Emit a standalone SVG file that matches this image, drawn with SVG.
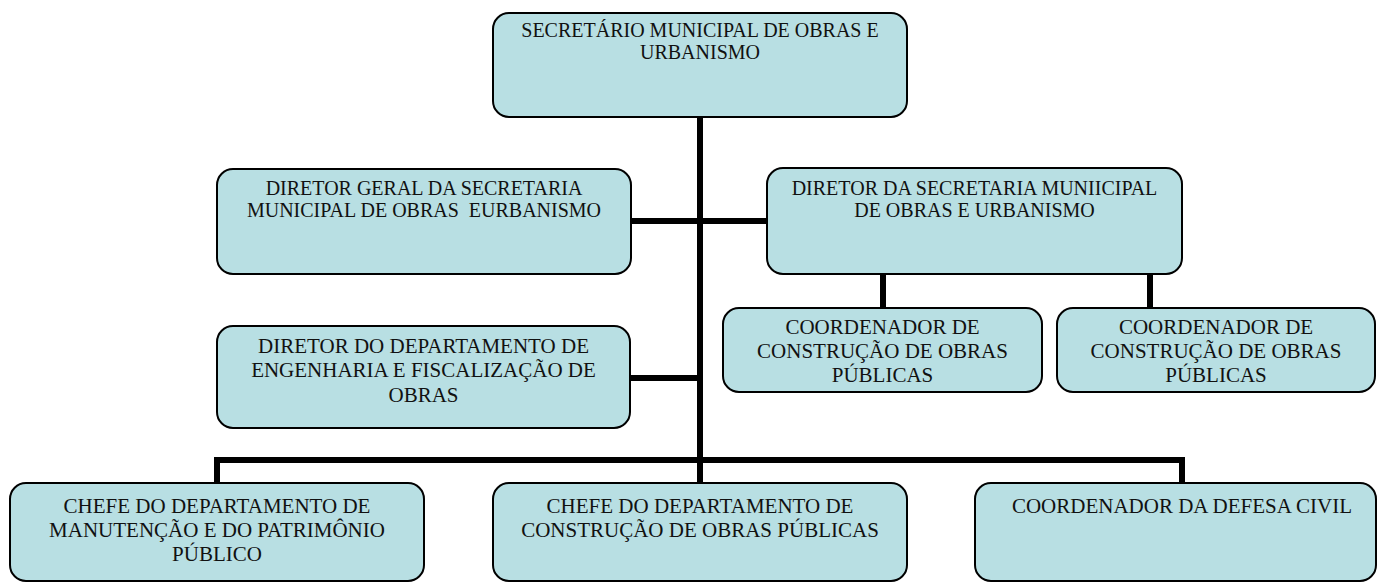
<svg xmlns="http://www.w3.org/2000/svg" width="1378" height="583" viewBox="0 0 1378 583">
<style>
.box{fill:#b8dfe3;stroke:#000;stroke-width:2}
.t{font-family:"Liberation Serif","Times New Roman",serif;font-size:20px;fill:#111;text-anchor:middle}
.t21{font-size:21px}
.c{stroke:#000;stroke-width:6;fill:none;stroke-linecap:butt}
</style>
<rect width="1378" height="583" fill="#fff"/>
<g id="connectors">
<line class="c" x1="700" y1="116" x2="700" y2="463"/>
<line class="c" x1="630" y1="221" x2="768" y2="221"/>
<line class="c" x1="629" y1="378" x2="700" y2="378"/>
<line class="c" x1="883" y1="274" x2="883" y2="309"/>
<line class="c" x1="1150" y1="274" x2="1150" y2="309"/>
<polyline class="c" points="217,484 217,460 1182,460 1182,484"/>
<line class="c" x1="700" y1="460" x2="700" y2="484"/>
</g>
<g id="n1">
<rect class="box" x="493" y="13" width="414" height="104" rx="16"/>
<text class="t" x="700" y="37">SECRETÁRIO MUNICIPAL DE OBRAS E</text>
<text class="t" x="700" y="59">URBANISMO</text>
</g>
<g id="n2">
<rect class="box" x="217" y="169" width="414" height="105" rx="16"/>
<text class="t" x="424" y="195">DIRETOR GERAL DA SECRETARIA</text>
<text class="t" x="424" y="217" xml:space="preserve">MUNICIPAL DE OBRAS  EURBANISMO</text>
</g>
<g id="n3">
<rect class="box" x="767" y="168" width="415" height="106" rx="16"/>
<text class="t" x="974.5" y="195">DIRETOR DA SECRETARIA MUNIICIPAL</text>
<text class="t" x="974.5" y="217">DE OBRAS E URBANISMO</text>
</g>
<g id="n4">
<rect class="box" x="217" y="326" width="413" height="102" rx="16"/>
<text class="t t21" x="423.5" y="353">DIRETOR DO DEPARTAMENTO DE</text>
<text class="t t21" x="423.5" y="377">ENGENHARIA E FISCALIZAÇÃO DE</text>
<text class="t t21" x="423.5" y="402">OBRAS</text>
</g>
<g id="n5">
<rect class="box" x="723" y="308" width="319" height="84" rx="16"/>
<text class="t t21" x="882.5" y="334">COORDENADOR DE</text>
<text class="t t21" x="882.5" y="358">CONSTRUÇÃO DE OBRAS</text>
<text class="t t21" x="882.5" y="382">PÚBLICAS</text>
</g>
<g id="n6">
<rect class="box" x="1057" y="308" width="318" height="84" rx="16"/>
<text class="t t21" x="1216" y="334">COORDENADOR DE</text>
<text class="t t21" x="1216" y="358">CONSTRUÇÃO DE OBRAS</text>
<text class="t t21" x="1216" y="382">PÚBLICAS</text>
</g>
<g id="n7">
<rect class="box" x="10" y="483" width="414" height="98" rx="16"/>
<text class="t t21" x="217" y="513">CHEFE DO DEPARTAMENTO DE</text>
<text class="t t21" x="217" y="537">MANUTENÇÃO E DO PATRIMÔNIO</text>
<text class="t t21" x="217" y="561">PÚBLICO</text>
</g>
<g id="n8">
<rect class="box" x="493" y="483" width="414" height="98" rx="16"/>
<text class="t t21" x="700" y="513">CHEFE DO DEPARTAMENTO DE</text>
<text class="t t21" x="700" y="537">CONSTRUÇÃO DE OBRAS PÚBLICAS</text>
</g>
<g id="n9">
<rect class="box" x="975" y="483" width="401" height="98" rx="16"/>
<text class="t t21" x="1182" y="513">COORDENADOR DA DEFESA CIVIL</text>
</g>
</svg>
